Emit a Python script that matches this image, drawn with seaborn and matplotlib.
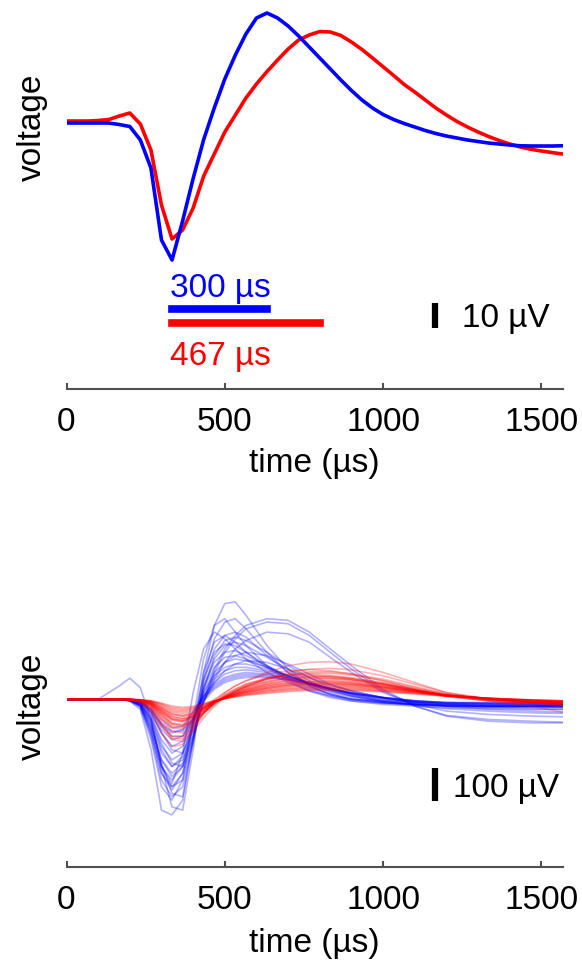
import numpy as np
import pandas as pd
import matplotlib
matplotlib.use("Agg")
import matplotlib.pyplot as plt
import seaborn as sns

# ---------------- data ----------------
sample_period_us = 1000.0 / 30.0   # 30 kHz sampling
n_samples = 48

blue_mean_uv = [-0.4, -0.4, -0.4, -0.4, -0.4, -1.0, -1.8, -7.2, -18.4, -47.2,
                -55.2, -39.6, -22.6, -7.0, 5.6, 17.2, 26.8, 35.2, 41.6, 43.6,
                41.6, 38.4, 34.4, 30.0, 25.6, 21.2, 16.8, 12.6, 8.8, 5.6,
                3.0, 1.0, -0.6, -2.0, -3.4, -4.6, -5.6, -6.4, -7.2, -7.8,
                -8.4, -8.8, -9.2, -9.5, -9.6, -9.6, -9.6, -9.5]
red_mean_uv = [0.4, 0.4, 0.4, 0.6, 1.0, 2.4, 3.6, -0.8, -11.2, -33.2,
               -46.8, -43.2, -34.4, -21.6, -12.8, -4.0, 2.8, 9.6, 15.2, 20.2,
               24.8, 29.2, 32.8, 34.8, 36.2, 36.0, 34.6, 32.0, 29.0, 25.6,
               22.1, 18.6, 15.0, 12.0, 8.8, 5.6, 2.8, 0.2, -2.0, -4.0,
               -5.8, -7.4, -8.8, -10.0, -10.9, -11.6, -12.2, -12.8]

key_times_us = [0, 100, 167, 200, 233, 267, 300, 333, 367, 400, 433, 467, 500,
                533, 567, 633, 700, 767, 833, 900, 1000, 1100, 1200, 1333, 1467, 1567]

blue_units_uv = [
    [0, 0, 0, -5, -30, -150, -330, -344, -300, -120, 80, 220, 285, 290, 250, 160, 90, 40, 15, 0, -10, -15, -18, -20, -20, -20],
    [0, 0, 40, 63, 35, -60, -200, -250, -160, 20, 150, 200, 180, 150, 120, 80, 50, 25, 10, 0, -5, -8, -10, -10, -10, -10],
    [0, 0, 0, -3, -20, -100, -220, -260, -220, -120, 0, 90, 150, 190, 220, 240, 235, 200, 150, 100, 30, -20, -50, -65, -70, -70],
    [0, 0, 0, -3, -15, -80, -180, -230, -200, -110, -10, 80, 140, 180, 210, 230, 225, 190, 140, 90, 25, -20, -48, -60, -65, -68],
    [0, 0, 0, -2, -12, -60, -150, -200, -180, -100, -10, 60, 110, 150, 175, 200, 195, 170, 125, 80, 20, -15, -35, -45, -50, -52],
    [0, 0, 0, -5, -25, -120, -260, -300, -240, -60, 120, 220, 240, 200, 160, 100, 60, 30, 10, -5, -15, -20, -25, -28, -30, -30],
    [0, 0, 0, -4, -20, -100, -220, -270, -220, -80, 80, 170, 190, 170, 140, 95, 55, 25, 5, -5, -12, -16, -18, -20, -20, -20],
    [0, 0, 0, -4, -18, -90, -200, -240, -200, -70, 60, 140, 165, 160, 140, 100, 65, 35, 15, 0, -10, -15, -18, -20, -20, -20],
    [0, 0, 0, -3, -15, -80, -180, -220, -190, -80, 40, 110, 140, 145, 130, 100, 70, 45, 25, 10, -5, -15, -20, -22, -24, -25],
    [0, 0, 0, -3, -12, -70, -160, -200, -170, -70, 30, 95, 125, 130, 120, 95, 70, 45, 25, 10, -5, -12, -18, -20, -20, -20],
    [0, 0, 0, -3, -10, -60, -140, -180, -160, -70, 20, 80, 110, 120, 115, 95, 70, 48, 30, 15, 0, -10, -15, -18, -18, -18],
    [0, 0, 0, -2, -10, -50, -120, -160, -140, -60, 20, 70, 95, 105, 105, 90, 70, 50, 30, 15, 0, -10, -15, -17, -18, -18],
    [0, 0, 0, -2, -8, -40, -100, -140, -125, -60, 10, 60, 85, 95, 95, 85, 68, 50, 32, 18, 3, -8, -13, -15, -16, -16],
    [0, 0, 0, -2, -8, -35, -90, -120, -110, -50, 10, 50, 75, 85, 88, 80, 65, 48, 32, 18, 4, -6, -12, -14, -15, -15],
    [0, 0, 0, -2, -6, -30, -75, -100, -90, -40, 10, 45, 65, 75, 80, 75, 62, 46, 30, 18, 5, -5, -10, -12, -12, -12],
    [0, 0, 0, -1, -5, -25, -60, -85, -80, -35, 5, 35, 55, 65, 70, 68, 58, 44, 30, 18, 5, -4, -9, -10, -10, -10],
    [0, 0, 0, -3, -15, -60, -200, -320, -330, -150, 60, 180, 230, 240, 210, 140, 80, 40, 15, 0, -10, -15, -20, -22, -22, -22],
    [0, 0, 0, -3, -15, -70, -190, -280, -290, -120, 50, 150, 190, 200, 185, 130, 80, 45, 20, 5, -8, -15, -20, -22, -22, -22],
    [0, 0, 0, -2, -10, -50, -130, -190, -200, -110, 0, 70, 110, 130, 140, 130, 105, 75, 45, 25, 5, -10, -20, -25, -28, -30],
    [0, 0, 0, -2, -8, -40, -100, -150, -160, -90, -5, 50, 85, 105, 115, 110, 90, 65, 42, 25, 5, -8, -15, -20, -22, -24],
    [0, 0, 0, -2, -8, -35, -80, -110, -110, -60, 0, 40, 60, 70, 75, 72, 62, 48, 32, 20, 5, -5, -12, -15, -16, -16],
    [0, 0, 0, -1, -6, -30, -70, -95, -95, -55, -5, 30, 50, 60, 65, 65, 58, 46, 32, 20, 6, -4, -10, -12, -13, -13],
    [0, 0, 0, -3, -20, -110, -240, -290, -260, -130, 30, 130, 175, 185, 175, 140, 100, 65, 35, 15, -5, -15, -22, -30, -35, -38],
    [0, 0, 0, -3, -18, -90, -200, -260, -240, -120, 30, 120, 160, 170, 160, 125, 90, 55, 28, 10, -8, -18, -28, -35, -40, -42],
]

red_units_uv = [
    [0, 0, 0, -2, -10, -40, -100, -140, -135, -90, -40, -5, 20, 40, 55, 75, 85, 88, 85, 75, 55, 30, 10, -5, -12, -15],
    [0, 0, 0, 0, -3, -15, -40, -60, -65, -50, -25, 0, 20, 40, 55, 80, 100, 110, 112, 105, 80, 50, 20, 0, -10, -15],
    [0, 0, 0, -1, -6, -25, -70, -110, -110, -80, -40, -10, 15, 30, 45, 62, 72, 75, 72, 64, 48, 28, 10, -4, -10, -12],
    [0, 0, 0, -1, -5, -20, -60, -95, -100, -75, -40, -12, 10, 25, 38, 55, 65, 68, 66, 60, 46, 28, 12, 0, -6, -10],
    [0, 0, 0, -1, -5, -18, -50, -80, -85, -65, -35, -10, 8, 22, 34, 50, 60, 64, 62, 56, 44, 28, 12, 0, -8, -12],
    [0, 0, 0, -1, -4, -15, -42, -70, -75, -58, -32, -10, 6, 18, 30, 45, 54, 58, 57, 52, 42, 27, 12, 0, -7, -11],
    [0, 0, 0, -1, -4, -14, -38, -62, -68, -54, -30, -8, 6, 18, 28, 42, 50, 54, 54, 50, 40, 26, 12, 1, -6, -10],
    [0, 0, 0, -1, -3, -12, -34, -56, -62, -50, -28, -8, 5, 15, 25, 38, 46, 50, 50, 46, 38, 25, 12, 2, -5, -9],
    [0, 0, 0, 0, -3, -10, -30, -50, -56, -46, -26, -8, 4, 14, 23, 35, 43, 47, 47, 44, 36, 24, 12, 2, -4, -8],
    [0, 0, 0, 0, -3, -9, -27, -45, -50, -42, -24, -7, 4, 13, 21, 32, 40, 44, 44, 41, 34, 23, 12, 3, -4, -7],
    [0, 0, 0, 0, -2, -8, -24, -40, -45, -38, -22, -6, 4, 12, 20, 30, 37, 41, 41, 38, 32, 22, 12, 3, -3, -6],
    [0, 0, 0, 0, -2, -7, -21, -36, -40, -34, -20, -6, 3, 11, 18, 27, 34, 38, 38, 36, 30, 21, 11, 3, -3, -6],
    [0, 0, 0, 0, -2, -6, -18, -32, -36, -30, -18, -5, 3, 10, 16, 25, 31, 35, 35, 33, 28, 20, 11, 3, -2, -5],
    [0, 0, 0, 0, -2, -5, -15, -28, -32, -27, -16, -5, 2, 9, 15, 23, 29, 32, 33, 31, 26, 19, 10, 3, -2, -5],
    [0, 0, 0, 0, -1, -5, -13, -24, -28, -24, -14, -4, 2, 8, 13, 20, 26, 29, 30, 28, 24, 17, 10, 3, -2, -4],
    [0, 0, 0, 0, -1, -4, -11, -20, -24, -21, -12, -4, 2, 7, 12, 18, 23, 26, 27, 26, 22, 16, 9, 3, -1, -4],
    [0, 0, 0, -2, -8, -30, -80, -120, -125, -95, -55, -20, 5, 25, 40, 60, 75, 82, 82, 76, 60, 38, 16, 0, -10, -14],
    [0, 0, 0, -1, -4, -18, -48, -75, -80, -65, -40, -15, 5, 22, 38, 62, 80, 90, 92, 88, 70, 45, 20, 2, -8, -12],
    [0, 0, 0, -1, -5, -20, -55, -85, -90, -70, -40, -12, 8, 25, 40, 60, 72, 78, 78, 72, 56, 35, 15, 0, -8, -13],
    [0, 0, 0, -1, -4, -16, -45, -72, -78, -62, -35, -10, 8, 22, 35, 52, 63, 68, 68, 63, 50, 32, 14, 0, -8, -20],
    [0, 0, 0, 0, -3, -12, -35, -58, -64, -52, -30, -8, 6, 18, 30, 46, 56, 62, 62, 58, 46, 30, 12, -4, -20, -38],
    [0, 0, 0, -1, -6, -28, -75, -115, -118, -85, -45, -12, 12, 30, 45, 64, 72, 72, 68, 60, 44, 26, 8, -4, -10, -12],
    [0, 0, 0, -1, -3, -12, -32, -52, -58, -48, -28, -8, 6, 16, 26, 40, 48, 52, 52, 48, 38, 25, 12, 2, -5, -9],
    [0, 0, 0, 0, -2, -9, -26, -44, -50, -42, -24, -6, 5, 14, 22, 34, 42, 46, 46, 43, 35, 23, 11, 2, -4, -7],
]

x_ticks = [0, 500, 1000, 1500]
trough_time_us = 333.3
blue_width_us = 300
red_width_us = 467
blue_width_label = "300 µs"
red_width_label = "467 µs"
scale_top_uv = 10
scale_bottom_uv = 100
scale_top_label = "10 µV"
scale_bottom_label = "100 µV"

BLUE = "#0000ff"
RED = "#ff0000"

# ---------------- figure ----------------
sns.set_theme(style="white")
plt.rcParams["font.family"] = ["Liberation Sans", "DejaVu Sans"]

fig = plt.figure(figsize=(5.82, 9.61), dpi=100)
x_end = sample_period_us * (n_samples - 1)
ax_left, ax_w = 66.5 / 582, 496.0 / 582
ax_top = fig.add_axes([ax_left, (961 - 389.3) / 961, ax_w, 384.3 / 961])
ax_bot = fig.add_axes([ax_left, (961 - 867) / 961, ax_w, 384.0 / 961])

# top panel: mean waveforms
t = np.arange(n_samples) * sample_period_us
df_top = pd.DataFrame({
    "t": np.concatenate([t, t]),
    "v": np.concatenate([red_mean_uv, blue_mean_uv]),
    "cell": ["red"] * n_samples + ["blue"] * n_samples,
})
sns.lineplot(data=df_top, x="t", y="v", hue="cell", hue_order=["red", "blue"],
             palette={"red": RED, "blue": BLUE}, linewidth=2.6, legend=False,
             ax=ax_top, sort=False)

# width bars
ax_top.plot([trough_time_us, trough_time_us + blue_width_us], [-74.8, -74.8],
            color=BLUE, lw=5.5, solid_capstyle="projecting")
ax_top.plot([trough_time_us, trough_time_us + red_width_us], [-80.4, -80.4],
            color=RED, lw=5.5, solid_capstyle="projecting")
ax_top.text(328, -70.0, blue_width_label, color=BLUE, fontsize=24, va="baseline", ha="left")
ax_top.text(328, -97.2, red_width_label, color=RED, fontsize=24, va="baseline", ha="left")
# scale bar
ax_top.plot([1164, 1164], [-82.3, -82.3 + scale_top_uv], color="black", lw=4.5,
            solid_capstyle="butt")
ax_top.text(1249, -81.9, scale_top_label, color="black", fontsize=24, va="baseline", ha="left")
ax_top.set_ylim(-106.9, 46.8)

# bottom panel: individual units
rows = []
for i, tr in enumerate(blue_units_uv):
    for tt, vv in zip(key_times_us, tr):
        rows.append(("blue", f"b{i}", tt, vv))
for i, tr in enumerate(red_units_uv):
    for tt, vv in zip(key_times_us, tr):
        rows.append(("red", f"r{i}", tt, vv))
df_bot = pd.DataFrame(rows, columns=["cell", "unit", "t", "v"])
sns.lineplot(data=df_bot, x="t", y="v", hue="cell", units="unit", estimator=None,
             hue_order=["blue", "red"], palette={"red": RED, "blue": BLUE},
             alpha=0.3, linewidth=1.2, legend=False, ax=ax_bot, sort=False)
ax_bot.plot([1164, 1164], [-304, -304 + scale_bottom_uv], color="black", lw=4.5,
            solid_capstyle="butt")
ax_bot.text(1222, -290.8, scale_bottom_label, color="black", fontsize=24, va="baseline", ha="left")
ax_bot.set_ylim(-499, 643.8)

for ax, ylab_y, xlab_y in [(ax_top, 0.6826, -0.1918), (ax_bot, 0.419, -0.198)]:
    ax.set_xlim(0, x_end)
    ax.set_xticks(x_ticks)
    ax.set_xticklabels([str(v) for v in x_ticks])
    ax.set_yticks([])
    for s in ["left", "top", "right"]:
        ax.spines[s].set_visible(False)
    ax.spines["bottom"].set_color("#505050")
    ax.spines["bottom"].set_linewidth(1.5)
    ax.tick_params(axis="x", direction="in", length=4.5, width=1.5, color="#505050",
                   labelsize=24, labelcolor="black", pad=13, bottom=True)
    ax.set_xlabel("time (µs)", fontsize=24, color="black")
    ax.set_ylabel("voltage", fontsize=24, color="black")
    ax.xaxis.set_label_coords(0.5, xlab_y)
    ax.xaxis.label.set_va("center")
    ax.yaxis.set_label_coords(-0.0685, ylab_y)
    ax.yaxis.label.set_va("center")
    ax.set_facecolor("white")
    ax.grid(False)

fig.savefig("out.png", dpi=100, facecolor="white")
